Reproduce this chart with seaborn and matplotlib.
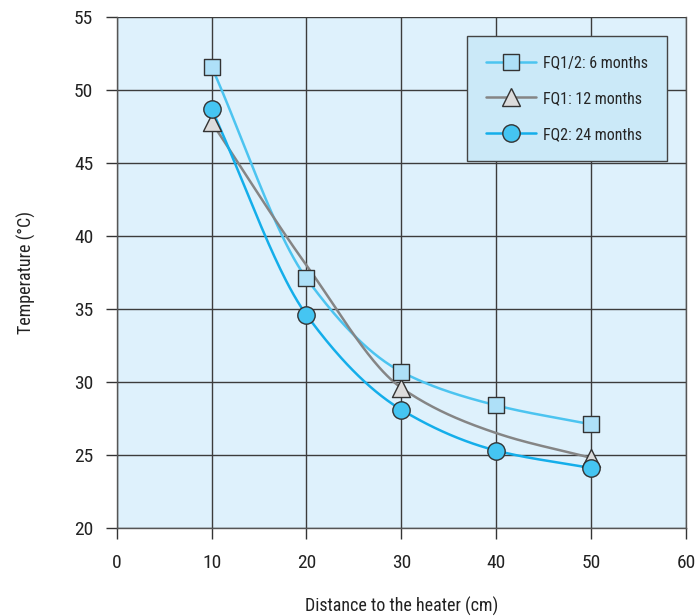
import numpy as np
import pandas as pd
import matplotlib
matplotlib.use("Agg")
import matplotlib.pyplot as plt
import seaborn as sns
from matplotlib import font_manager

distance = [10, 20, 30, 40, 50]
fq12_6m = [51.6, 37.1, 30.7, 28.4, 27.1]
fq1_12m = [47.8, 38.0, 29.6, 26.5, 24.8]
fq2_24m = [48.7, 34.6, 28.1, 25.3, 24.1]
series_names = ["FQ1/2: 6 months", "FQ1: 12 months", "FQ2: 24 months"]
# markers shown in the reference (FQ1 only at 10, 30, 50 cm)
marker_idx = [[0, 1, 2, 3, 4], [0, 2, 4], [0, 1, 2, 3, 4]]

sns.set_theme(style="white")
names = {f.name for f in font_manager.fontManager.ttflist}
fam = [f for f in ["Liberation Sans Narrow", "Roboto Condensed", "DejaVu Sans"] if f in names]
plt.rcParams["font.family"] = fam + ["DejaVu Sans"]


def pchip(x, y, xs):
    x = np.asarray(x, float); y = np.asarray(y, float)
    h = np.diff(x); d = np.diff(y) / h
    n = len(x); m = np.zeros(n)
    for k in range(1, n - 1):
        if d[k - 1] * d[k] > 0:
            w1 = 2 * h[k] + h[k - 1]; w2 = h[k] + 2 * h[k - 1]
            m[k] = (w1 + w2) / (w1 / d[k - 1] + w2 / d[k])
    m[0] = d[0]; m[-1] = d[-1]
    out = np.empty_like(xs)
    for i, xv in enumerate(xs):
        k = min(max(np.searchsorted(x, xv) - 1, 0), n - 2)
        t = (xv - x[k]) / h[k]
        h00 = 2 * t**3 - 3 * t**2 + 1; h10 = t**3 - 2 * t**2 + t
        h01 = -2 * t**3 + 3 * t**2; h11 = t**3 - t**2
        out[i] = h00 * y[k] + h10 * h[k] * m[k] + h01 * y[k + 1] + h11 * h[k] * m[k + 1]
    return out


fig = plt.figure(figsize=(6.95, 6.16), dpi=100)
ax = fig.add_axes([0.168, 0.143, 0.819, 0.829])
ax.set_facecolor("#def1fc")

styles = [
    dict(color="#4cc4f0", marker="s", mfc="#aee0f8", ms=12, z=5),
    dict(color="#858585", marker="^", mfc="#dcdcdc", ms=13, z=4),
    dict(color="#14aeea", marker="o", mfc="#45c5f2", ms=12.5, z=6),
]
data = [fq12_6m, fq1_12m, fq2_24m]
xs = np.linspace(10, 50, 200)
handles = []
for name, vals, st in zip(series_names, data, styles):
    smooth = pchip(distance, vals, xs)
    df = pd.DataFrame({"x": xs, "y": smooth})
    sns.lineplot(data=df, x="x", y="y", ax=ax, color=st["color"], lw=1.8, zorder=3)
for name, vals, st, idx in zip(series_names, data, styles, marker_idx):
    pts = pd.DataFrame({"x": [distance[i] for i in idx], "y": [vals[i] for i in idx]})
    sns.scatterplot(data=pts, x="x", y="y", ax=ax, marker=st["marker"], s=st["ms"] ** 2,
                    color=st["mfc"], edgecolor="#333333", linewidth=1.0, zorder=st["z"])
    handles.append(plt.Line2D([], [], color=st["color"], lw=1.8, marker=st["marker"],
                              mfc=st["mfc"], mec="#333333", mew=1.0, ms=st["ms"]))

ax.set_xlim(0, 60)
ax.set_ylim(20, 55)
ax.set_xticks(range(0, 61, 10))
ax.set_yticks(range(20, 56, 5))
ax.grid(True, color="#3c3c3c", lw=1.0)
ax.set_axisbelow(True)
for s in ax.spines.values():
    s.set_color("#555555"); s.set_linewidth(1.0)
ax.spines["top"].set_visible(False)
ax.tick_params(axis="both", direction="out", length=8, width=1, color="#333333",
               labelsize=14, labelcolor="#222222", left=True, bottom=True)
ax.tick_params(axis="y", pad=9)
ax.tick_params(axis="x", pad=11)
ax.set_xlabel("Distance to the heater (cm)", fontsize=13, color="#222222", labelpad=18)
ax.set_ylabel("Temperature (°C)", fontsize=13, color="#222222", labelpad=27)

leg = ax.legend(handles, series_names, loc="upper right", bbox_to_anchor=(0.967, 0.963),
                fontsize=11.5, frameon=True, fancybox=False, handlelength=3.1,
                borderpad=1.2, labelspacing=1.3, handletextpad=0.45, borderaxespad=0)
leg.get_frame().set_facecolor("#cbe9f8")
leg.get_frame().set_edgecolor("#444444")
leg.get_frame().set_alpha(1)
leg.set_zorder(10)

fig.savefig("out.png", dpi=100)
